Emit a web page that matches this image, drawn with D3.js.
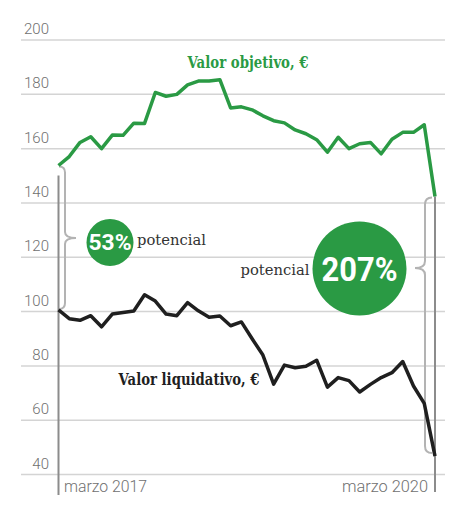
<!DOCTYPE html>
<html><head><meta charset="utf-8">
<script src="https://cdn.jsdelivr.net/npm/d3@7"></script>
<style>
html,body{margin:0;padding:0;background:#fff;}
svg{display:block;}
</style></head>
<body>
<svg id="chart" width="460" height="516"></svg>
<script>
// Monthly data, March/April 2017 .. March 2020 (36 points)
const valorObjetivo = [153.6,156.9,162.1,164.2,159.8,164.8,164.7,169.2,169.1,180.5,179.1,179.8,183.3,184.7,184.7,185.2,174.8,175.2,174.1,171.9,170.1,169.3,166.7,165.3,163.1,158.5,164.0,159.8,161.6,162.1,157.9,163.3,165.8,165.8,168.6,142.2];
const valorLiquidativo = [100.4,97.2,96.6,98.3,94.2,98.9,99.5,100.0,106.0,103.7,98.9,98.3,103.1,100.1,97.7,98.2,94.6,96.0,89.8,83.8,73.1,80.1,79.1,79.7,81.9,72.0,75.5,74.4,70.2,73.0,75.5,77.3,81.4,72.4,66.0,46.6];
const yTicks = [40,60,80,100,120,140,160,180,200];
const xLabels = ["marzo 2017","marzo 2020"];
const seriesLabels = ["Valor objetivo, €","Valor liquidativo, €"];
const potenciales = ["53%","207%"];
const potencialWord = "potencial";

const GREEN = "#2a9a44", BLACK = "#1f1f1f";
const svg = d3.select("#chart");
const n = valorObjetivo.length;
const x = d3.scaleLinear().domain([0, n-1]).range([58.5, 435]);
const y = d3.scaleLinear().domain([40, 200]).range([474, 39.5]);

// gridlines
const yAxis = d3.axisLeft(y).tickValues(yTicks).tickSize(-424).tickFormat("");
const g = svg.append("g").attr("transform","translate(21,0)").call(yAxis);
g.select(".domain").remove();
g.selectAll(".tick line").attr("stroke","#d4d4d4").attr("stroke-width",1.5);

// tick labels above gridlines
svg.append("g").selectAll("text").data(yTicks).join("text")
  .attr("x",49).attr("y",d=>y(d)-5.5).attr("text-anchor","end")
  .attr("font-family","Roboto").attr("font-weight",300).attr("font-size",15)
  .attr("fill","#707070").text(d=>d);

// vertical reference lines
svg.append("line").attr("x1",x(0)).attr("x2",x(0)).attr("y1",y(valorObjetivo[0])+10).attr("y2",495)
  .attr("stroke","#8c8c8c").attr("stroke-width",2);
svg.append("line").attr("x1",x(n-1)).attr("x2",x(n-1)).attr("y1",y(valorObjetivo[n-1])).attr("y2",492)
  .attr("stroke","#8c8c8c").attr("stroke-width",2);

// x labels
svg.append("text").attr("x",64).attr("y",492).attr("font-family","Roboto").attr("font-weight",300)
  .attr("font-size",16).attr("fill","#707070").attr("textLength",83).attr("lengthAdjust","spacingAndGlyphs").text(xLabels[0]);
svg.append("text").attr("x",342).attr("y",492).attr("font-family","Roboto").attr("font-weight",300)
  .attr("font-size",16).attr("fill","#707070").attr("textLength",86).attr("lengthAdjust","spacingAndGlyphs").text(xLabels[1]);

// braces
function brace(bx, y0, y1, ym, dir, w, r){
  return `M${bx-dir*r},${y0} Q${bx},${y0} ${bx},${y0+r} L${bx},${ym-r} Q${bx},${ym} ${bx+dir*w},${ym} `+
         `Q${bx},${ym} ${bx},${ym+r} L${bx},${y1-r} Q${bx},${y1} ${bx-dir*r},${y1}`;
}
svg.append("path").attr("d",brace(65, y(valorObjetivo[0])+1, y(valorLiquidativo[0])-1, 238, 1, 11, 6))
  .attr("fill","none").attr("stroke","#b3b3b3").attr("stroke-width",2);
svg.append("path").attr("d",brace(425, y(valorObjetivo[n-1])+1, y(valorLiquidativo[n-1])-3, 268, -1, 10, 7))
  .attr("fill","none").attr("stroke","#b3b3b3").attr("stroke-width",2);

// lines
const line = d3.line().x((d,i)=>x(i)).y(d=>y(d)).curve(d3.curveLinear);
svg.append("path").datum(valorObjetivo).attr("d",line).attr("fill","none")
  .attr("stroke",GREEN).attr("stroke-width",3.5).attr("stroke-linejoin","round");
svg.append("path").datum(valorLiquidativo).attr("d",line).attr("fill","none")
  .attr("stroke",BLACK).attr("stroke-width",3.5).attr("stroke-linejoin","round");

// series labels
svg.append("text").attr("x",187.5).attr("y",67.5).attr("font-family","DejaVu Serif").attr("font-weight","bold")
  .attr("font-size",16).attr("fill",GREEN).attr("textLength",121).attr("lengthAdjust","spacingAndGlyphs").text(seriesLabels[0]);
svg.append("text").attr("x",118.5).attr("y",385).attr("font-family","DejaVu Serif").attr("font-weight","bold")
  .attr("font-size",16).attr("fill",BLACK).attr("textLength",141).attr("lengthAdjust","spacingAndGlyphs").text(seriesLabels[1]);

// circles
svg.append("circle").attr("cx",110).attr("cy",242.5).attr("r",23.5).attr("fill",GREEN);
svg.append("text").attr("x",110).attr("y",250).attr("text-anchor","middle").attr("font-family","Roboto")
  .attr("font-weight","bold").attr("font-size",22).attr("fill","#fff")
  .attr("textLength",43).attr("lengthAdjust","spacingAndGlyphs").text(potenciales[0]);
svg.append("text").attr("x",137).attr("y",245).attr("font-family","DejaVu Serif").attr("font-size",15)
  .attr("fill","#333").attr("textLength",69).attr("lengthAdjust","spacingAndGlyphs").text(potencialWord);

svg.append("circle").attr("cx",359.5).attr("cy",268.5).attr("r",47).attr("fill",GREEN);
svg.append("text").attr("x",359.5).attr("y",280.5).attr("text-anchor","middle").attr("font-family","Roboto")
  .attr("font-weight","bold").attr("font-size",34).attr("fill","#fff")
  .attr("textLength",76).attr("lengthAdjust","spacingAndGlyphs").text(potenciales[1]);
svg.append("text").attr("x",309.5).attr("y",275).attr("text-anchor","end").attr("font-family","DejaVu Serif").attr("font-size",15)
  .attr("fill","#333").attr("textLength",69).attr("lengthAdjust","spacingAndGlyphs").text(potencialWord);
</script>
</body></html>
